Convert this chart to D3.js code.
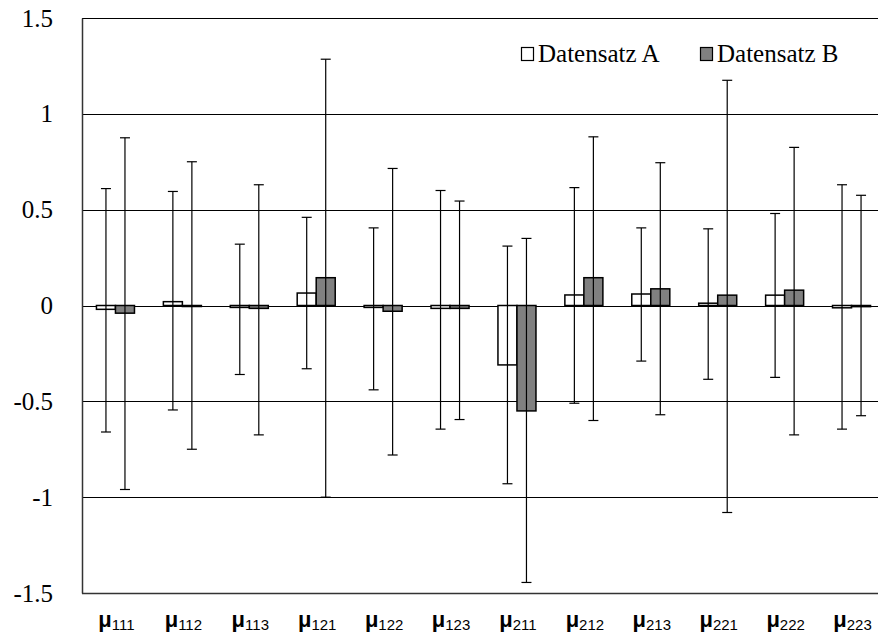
<!DOCTYPE html>
<html>
<head>
<meta charset="utf-8">
<script src="https://cdn.jsdelivr.net/npm/d3@7"></script>
<style>
body { margin: 0; background: #fff; }
svg { display: block; }
</style>
</head>
<body>
<svg id="chart" width="878" height="639"></svg>
<script>
// ---- data ----
const categories = ["111","112","113","121","122","123","211","212","213","221","222","223"];
const seriesNames = ["Datensatz A", "Datensatz B"];
const valuesA = [-0.02, 0.02, -0.01, 0.065, -0.01, -0.015, -0.31, 0.055, 0.06, 0.012, 0.054, -0.012];
const valuesB = [-0.04, -0.005, -0.015, 0.145, -0.03, -0.015, -0.55, 0.145, 0.087, 0.054, 0.08, -0.006];
const upperA = [0.61, 0.595, 0.32, 0.46, 0.405, 0.60, 0.31, 0.615, 0.405, 0.40, 0.48, 0.63];
const lowerA = [-0.66, -0.545, -0.36, -0.33, -0.44, -0.645, -0.93, -0.51, -0.29, -0.385, -0.375, -0.645];
const upperB = [0.875, 0.75, 0.63, 1.285, 0.715, 0.545, 0.35, 0.88, 0.745, 1.175, 0.825, 0.575];
const lowerB = [-0.96, -0.75, -0.675, -1.0, -0.78, -0.595, -1.445, -0.60, -0.57, -1.08, -0.675, -0.575];
const yTicks = [-1.5, -1, -0.5, 0, 0.5, 1, 1.5];

(function () {
const svg = d3.select("#chart");
const pLeft = 82, pTop = 18, pBottom = 593, pRight = 885;

const y = d3.scaleLinear().domain([-1.5, 1.5]).range([pBottom, pTop]);
const x0 = d3.scaleBand().domain(categories).range([pLeft, pRight]).paddingInner(0).paddingOuter(0);
const x1 = d3.scaleBand().domain(["A", "B"]).range([0, x0.bandwidth()]).paddingInner(0).paddingOuter(0.76);

const rows = categories.map((c, i) => ({
  cat: c,
  items: [
    {key: "A", v: valuesA[i], lo: lowerA[i], hi: upperA[i]},
    {key: "B", v: valuesB[i], lo: lowerB[i], hi: upperB[i]}
  ]
}));

// gridlines
svg.append("g")
  .selectAll("line").data(yTicks.filter(t => t > -1.5))
  .join("line")
  .attr("x1", pLeft).attr("x2", pRight)
  .attr("y1", d => Math.round(y(d)) + 0.5).attr("y2", d => Math.round(y(d)) + 0.5)
  .attr("stroke", "#000").attr("stroke-width", 1);

// y axis
const yAxis = d3.axisLeft(y).tickValues(yTicks).tickSize(0).tickPadding(29).tickFormat(d => String(d));
const gy = svg.append("g").attr("transform", `translate(${pLeft},0)`).call(yAxis);
gy.select(".domain").attr("stroke", "#333").attr("stroke-width", 1.5);
gy.selectAll("text").attr("font-family", "'Liberation Serif', 'Times New Roman', serif")
  .attr("font-size", 25).attr("fill", "#000");

// bottom axis line
svg.append("line").attr("x1", pLeft).attr("x2", pRight)
  .attr("y1", pBottom + 0.5).attr("y2", pBottom + 0.5)
  .attr("stroke", "#333").attr("stroke-width", 1.5);

// bars
const groups = svg.append("g").selectAll("g").data(rows).join("g")
  .attr("transform", d => `translate(${x0(d.cat)},0)`);

groups.selectAll("rect").data(d => d.items).join("rect")
  .attr("x", d => x1(d.key))
  .attr("width", x1.bandwidth())
  .attr("y", d => y(Math.max(0, d.v)))
  .attr("height", d => Math.max(1, Math.abs(y(d.v) - y(0))))
  .attr("fill", d => d.key === "A" ? "#fff" : "#808080")
  .attr("stroke", "#000").attr("stroke-width", 1.5);

// error bars
const eb = groups.selectAll("g.eb").data(d => d.items).join("g").attr("class", "eb");
eb.append("line")
  .attr("x1", d => x1(d.key) + x1.bandwidth() / 2).attr("x2", d => x1(d.key) + x1.bandwidth() / 2)
  .attr("y1", d => y(d.hi)).attr("y2", d => y(d.lo))
  .attr("stroke", "#000").attr("stroke-width", 1.2);
eb.append("line")
  .attr("x1", d => x1(d.key) + x1.bandwidth() / 2 - 5).attr("x2", d => x1(d.key) + x1.bandwidth() / 2 + 5)
  .attr("y1", d => y(d.hi)).attr("y2", d => y(d.hi))
  .attr("stroke", "#000").attr("stroke-width", 1.2);
eb.append("line")
  .attr("x1", d => x1(d.key) + x1.bandwidth() / 2 - 5).attr("x2", d => x1(d.key) + x1.bandwidth() / 2 + 5)
  .attr("y1", d => y(d.lo)).attr("y2", d => y(d.lo))
  .attr("stroke", "#000").attr("stroke-width", 1.2);

// x labels
const xl = svg.append("g").selectAll("text").data(categories).join("text")
  .attr("x", d => x0(d) + x0.bandwidth() / 2 + 1)
  .attr("y", 627)
  .attr("text-anchor", "middle")
  .attr("font-family", "'Liberation Sans', Arial, sans-serif")
  .attr("fill", "#000");
xl.append("tspan").attr("font-size", 22).attr("font-weight", "bold").text("μ");
xl.append("tspan").attr("font-size", 15).attr("dy", 3).text(d => d);

// legend
const legendX = [521, 700];
const lg = svg.append("g").selectAll("g").data(seriesNames).join("g")
  .attr("transform", (d, i) => `translate(${legendX[i]},47)`);
lg.append("rect").attr("x", 0.5).attr("y", 0.5).attr("width", 12).attr("height", 13)
  .attr("fill", (d, i) => i === 0 ? "#fff" : "#808080")
  .attr("stroke", "#000").attr("stroke-width", 1.2);
lg.append("text").attr("x", 17).attr("y", 15)
  .attr("font-family", "'Liberation Serif', 'Times New Roman', serif")
  .attr("font-size", 25).attr("fill", "#000")
  .text(d => d);
})();
</script>
</body>
</html>
